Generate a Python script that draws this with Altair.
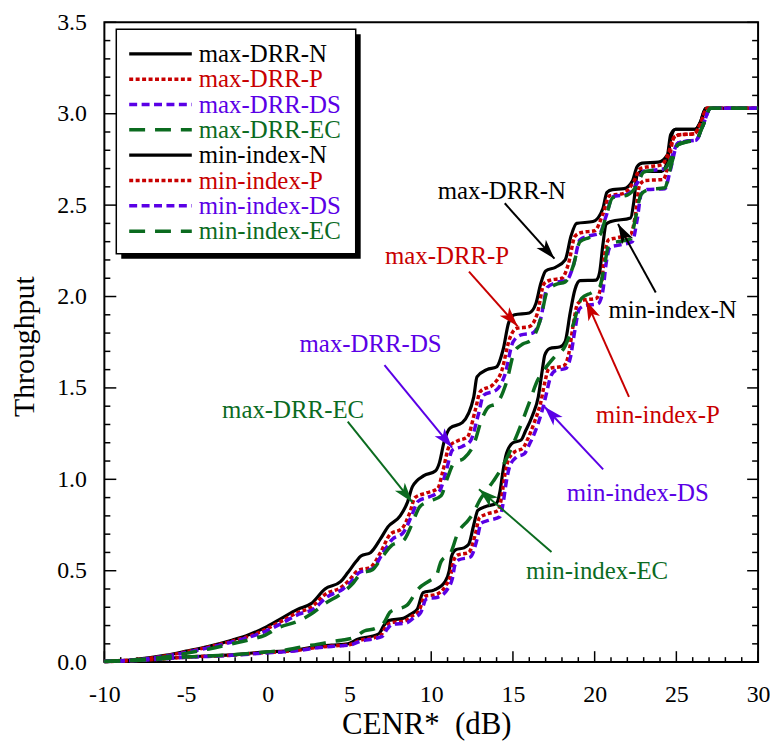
import math
import altair as alt
import pandas as pd

FONT = "Liberation Serif"
W, H = 658, 644
XMIN, XMAX, YMIN, YMAX = -10, 30, 0, 3.5

names = ["max-DRR-N", "max-DRR-P", "max-DRR-DS", "max-DRR-EC",
         "min-index-N", "min-index-P", "min-index-DS", "min-index-EC"]
colors = ["#000000", "#c80000", "#5a00e6", "#0b6b1f",
          "#000000", "#c80000", "#5a00e6", "#0b6b1f"]
dashes = [[1, 0], [4, 2.5], [8, 4.5], [16, 10],
          [1, 0], [4, 2.5], [8, 4.5], [16, 10]]
widths = [3.2, 3.5, 3.5, 3.5, 3.2, 3.5, 3.5, 3.5]

maxN_x = [-10, -8.3, -6.2, -5.0, -3.6, -2.2, -1.2, -0.15, 0.65, 1.85, 2.65, 3.5, 4.45, 4.9, 5.4, 5.7, 6.3, 6.9, 7.35, 8.1, 8.55, 8.85, 9.55, 10.25, 10.5, 10.8, 11.15, 11.9, 12.6, 12.8, 13.4, 14.0, 14.4, 14.75, 15.1, 16.0, 16.4, 16.7, 17.0, 17.6, 18.2, 18.55, 18.9, 19.9, 20.5, 20.75, 21.1, 21.8, 22.3, 22.6, 22.9, 23.9, 24.45, 24.65, 24.95, 26.15, 26.45, 26.8, 30]
maxN_y = [0.005, 0.013, 0.038, 0.06, 0.087, 0.12, 0.148, 0.19, 0.23, 0.29, 0.32, 0.40, 0.44, 0.49, 0.55, 0.58, 0.60, 0.675, 0.74, 0.80, 0.875, 0.96, 1.02, 1.045, 1.09, 1.21, 1.28, 1.31, 1.45, 1.56, 1.60, 1.615, 1.71, 1.86, 1.90, 1.91, 1.96, 2.07, 2.14, 2.16, 2.20, 2.33, 2.40, 2.41, 2.48, 2.57, 2.585, 2.59, 2.63, 2.71, 2.73, 2.735, 2.775, 2.885, 2.915, 2.915, 2.95, 3.03, 3.03]

maxP_x = [-10, -8.3, -6.2, -5.0, -3.6, -2.2, -1.2, -0.15, 0.65, 1.85, 2.65, 3.5, 4.5, 5.0, 5.5, 6.3, 6.9, 7.5, 8.2, 8.7, 9.0, 9.7, 10.4, 10.7, 11.1, 11.6, 12.2, 12.7, 13.0, 13.8, 14.3, 14.8, 15.2, 16.0, 16.5, 16.9, 17.3, 18.0, 18.4, 18.8, 19.2, 20.0, 20.5, 20.9, 21.8, 22.4, 22.8, 23.3, 24.1, 24.5, 24.85, 25.2, 26.1, 26.45, 26.9, 30]
maxP_y = [0.005, 0.012, 0.035, 0.056, 0.083, 0.115, 0.14, 0.178, 0.215, 0.272, 0.30, 0.37, 0.41, 0.45, 0.50, 0.52, 0.60, 0.70, 0.73, 0.82, 0.90, 0.925, 0.95, 1.04, 1.18, 1.21, 1.23, 1.38, 1.48, 1.52, 1.59, 1.77, 1.825, 1.835, 1.91, 2.07, 2.09, 2.10, 2.18, 2.33, 2.35, 2.36, 2.45, 2.55, 2.565, 2.63, 2.70, 2.71, 2.72, 2.78, 2.87, 2.885, 2.89, 2.94, 3.03, 3.03]

maxDS_x = [-10, -8.3, -6.2, -5.0, -3.6, -2.2, -1.2, -0.1, 0.7, 1.9, 2.8, 3.6, 4.6, 5.1, 5.6, 6.4, 7.0, 7.6, 8.3, 8.8, 9.2, 9.9, 10.5, 10.9, 11.3, 11.9, 12.4, 12.9, 13.2, 14.0, 14.5, 15.0, 15.5, 16.2, 16.7, 17.1, 17.6, 18.3, 18.7, 19.1, 19.6, 20.3, 20.7, 21.1, 22.0, 22.6, 23.0, 23.5, 24.3, 24.7, 25.1, 25.6, 26.2, 26.6, 27.1, 30]
maxDS_y = [0.004, 0.011, 0.033, 0.053, 0.079, 0.11, 0.135, 0.17, 0.205, 0.262, 0.29, 0.355, 0.40, 0.44, 0.49, 0.51, 0.59, 0.67, 0.71, 0.80, 0.88, 0.905, 0.935, 1.04, 1.16, 1.18, 1.21, 1.36, 1.46, 1.49, 1.57, 1.75, 1.79, 1.80, 1.88, 2.05, 2.075, 2.09, 2.17, 2.31, 2.33, 2.345, 2.44, 2.545, 2.56, 2.62, 2.685, 2.69, 2.70, 2.76, 2.84, 2.85, 2.855, 2.93, 3.03, 3.03]

maxEC_x = [-10, -8.3, -6.2, -5.0, -3.6, -2.2, -1.0, -0.15, 0.7, 1.8, 2.6, 3.5, 4.5, 5.2, 5.7, 6.4, 7.0, 7.6, 8.3, 8.8, 9.3, 9.9, 10.6, 11.0, 11.4, 12.0, 12.6, 13.1, 13.5, 14.0, 14.6, 15.1, 15.6, 16.1, 16.7, 17.1, 17.6, 18.2, 18.7, 19.1, 19.6, 20.3, 20.7, 21.1, 22.0, 22.6, 23.0, 23.5, 24.3, 24.7, 25.1, 25.6, 26.2, 26.6, 27.1, 30]
maxEC_y = [0.004, 0.011, 0.03, 0.048, 0.072, 0.10, 0.125, 0.148, 0.19, 0.222, 0.26, 0.32, 0.375, 0.43, 0.485, 0.505, 0.575, 0.64, 0.665, 0.75, 0.85, 0.88, 0.91, 1.01, 1.09, 1.115, 1.19, 1.33, 1.395, 1.415, 1.53, 1.70, 1.74, 1.76, 1.88, 2.03, 2.065, 2.08, 2.17, 2.30, 2.32, 2.335, 2.44, 2.54, 2.555, 2.61, 2.68, 2.69, 2.70, 2.76, 2.83, 2.845, 2.855, 2.93, 3.03, 3.03]

minN_x = [-10, -7.5, -5.0, -2.2, -0.15, 1.0, 1.85, 3.0, 3.9, 4.9, 5.5, 6.3, 6.8, 7.1, 7.4, 8.3, 8.7, 9.15, 9.5, 10.2, 10.85, 11.1, 11.25, 11.5, 12.0, 12.3, 12.6, 12.85, 13.3, 14.0, 14.2, 14.4, 14.6, 15.0, 15.5, 15.75, 16.2, 16.55, 16.8, 16.95, 17.25, 17.9, 18.2, 18.5, 18.8, 19.1, 20.1, 20.3, 20.5, 20.7, 21.0, 22.2, 22.4, 22.6, 22.9, 24.1, 24.45, 24.65, 24.95, 26.15, 26.45, 26.8, 30]
minN_y = [0.003, 0.012, 0.028, 0.04, 0.055, 0.06, 0.068, 0.085, 0.093, 0.10, 0.125, 0.14, 0.155, 0.20, 0.228, 0.24, 0.26, 0.29, 0.38, 0.395, 0.44, 0.50, 0.58, 0.615, 0.625, 0.645, 0.75, 0.83, 0.85, 0.87, 0.93, 1.05, 1.14, 1.20, 1.215, 1.26, 1.35, 1.45, 1.60, 1.68, 1.716, 1.725, 1.755, 1.91, 2.04, 2.087, 2.09, 2.13, 2.28, 2.395, 2.41, 2.43, 2.52, 2.665, 2.685, 2.685, 2.74, 2.86, 2.915, 2.915, 2.95, 3.03, 3.03]

minP_x = [-10, -7.5, -5.0, -2.2, -0.15, 1.0, 1.85, 3.0, 3.9, 5.0, 5.6, 6.4, 6.9, 7.2, 7.5, 8.4, 8.8, 9.25, 9.6, 10.3, 10.9, 11.2, 11.35, 11.6, 12.3, 12.7, 12.95, 13.4, 14.1, 14.3, 14.5, 14.7, 15.1, 15.6, 15.9, 16.3, 16.7, 16.95, 17.2, 18.1, 18.4, 18.7, 18.95, 19.3, 20.1, 20.4, 20.6, 20.85, 21.3, 22.2, 22.5, 22.75, 23.1, 24.2, 24.5, 24.85, 25.2, 26.1, 26.45, 26.9, 30]
minP_y = [0.003, 0.011, 0.027, 0.038, 0.052, 0.058, 0.065, 0.08, 0.088, 0.095, 0.118, 0.132, 0.145, 0.19, 0.215, 0.225, 0.25, 0.28, 0.36, 0.37, 0.42, 0.48, 0.55, 0.585, 0.60, 0.70, 0.79, 0.81, 0.83, 0.90, 1.02, 1.10, 1.15, 1.17, 1.22, 1.31, 1.42, 1.53, 1.605, 1.62, 1.68, 1.85, 1.96, 1.98, 1.99, 2.06, 2.22, 2.31, 2.32, 2.34, 2.45, 2.61, 2.635, 2.64, 2.72, 2.87, 2.885, 2.89, 2.94, 3.03, 3.03]

minDS_x = [-10, -7.5, -5.0, -2.2, -0.15, 1.0, 1.85, 3.0, 3.9, 5.0, 5.7, 6.5, 7.0, 7.3, 7.6, 8.5, 8.9, 9.35, 9.7, 10.4, 11.0, 11.3, 11.45, 11.7, 12.4, 12.8, 13.05, 13.5, 14.2, 14.4, 14.6, 14.8, 15.2, 15.7, 16.0, 16.4, 16.8, 17.05, 17.3, 17.6, 18.2, 18.5, 18.8, 19.05, 19.4, 20.2, 20.5, 20.7, 20.95, 21.4, 22.3, 22.6, 22.85, 23.2, 24.3, 24.6, 25.1, 25.6, 26.2, 26.6, 27.1, 30]
minDS_y = [0.003, 0.011, 0.026, 0.037, 0.05, 0.056, 0.063, 0.078, 0.086, 0.093, 0.115, 0.128, 0.14, 0.18, 0.205, 0.215, 0.24, 0.27, 0.345, 0.355, 0.40, 0.46, 0.53, 0.56, 0.575, 0.67, 0.76, 0.775, 0.795, 0.87, 0.99, 1.07, 1.12, 1.14, 1.19, 1.27, 1.38, 1.47, 1.56, 1.595, 1.605, 1.66, 1.82, 1.93, 1.95, 1.96, 2.03, 2.18, 2.27, 2.28, 2.30, 2.42, 2.56, 2.585, 2.59, 2.68, 2.84, 2.85, 2.855, 2.93, 3.03, 3.03]

minEC_x = [-10, -7.5, -5.0, -2.2, -0.15, 1.0, 2.3, 3.0, 3.9, 4.5, 5.3, 5.9, 6.6, 7.1, 7.5, 8.5, 9.2, 9.9, 10.3, 10.6, 11.2, 11.6, 12.3, 12.6, 13.0, 13.4, 13.8, 14.3, 14.7, 15.0, 15.5, 16.0, 16.5, 17.0, 17.5, 18.2, 18.7, 19.2, 19.8, 20.3, 20.6, 20.9, 21.4, 22.2, 22.5, 22.85, 23.3, 24.3, 24.6, 25.1, 25.6, 26.2, 26.6, 27.1, 30]
minEC_y = [0.003, 0.012, 0.028, 0.04, 0.055, 0.065, 0.087, 0.097, 0.112, 0.12, 0.136, 0.17, 0.185, 0.215, 0.275, 0.31, 0.40, 0.445, 0.47, 0.55, 0.60, 0.70, 0.78, 0.82, 0.89, 0.94, 0.99, 1.06, 1.13, 1.19, 1.30, 1.42, 1.54, 1.61, 1.665, 1.73, 1.85, 1.99, 2.02, 2.05, 2.17, 2.29, 2.30, 2.315, 2.43, 2.56, 2.585, 2.595, 2.69, 2.83, 2.845, 2.855, 2.93, 3.03, 3.03]

series_x = [maxN_x, maxP_x, maxDS_x, maxEC_x, minN_x, minP_x, minDS_x, minEC_x]
series_y = [maxN_y, maxP_y, maxDS_y, maxEC_y, minN_y, minP_y, minDS_y, minEC_y]
draw_order = [0, 4, 1, 5, 2, 6, 3, 7]

# annotations: label text positions (x, baseline y) and arrows (start -> tip)
ann_text = names
ann_tx = [14.32, 10.97, 6.29, 1.55, 24.77, 23.86, 22.64, 20.15]
ann_ty = [2.533, 2.179, 1.696, 1.337, 1.880, 1.310, 0.880, 0.457]
arr_x0 = [14.50, 12.31, 7.14, 4.89, 23.74, 22.10, 20.52, 17.36]
arr_y0 = [2.510, 2.136, 1.625, 1.315, 2.022, 1.451, 1.054, 0.603]
arr_x1 = [17.54, 15.29, 11.28, 8.84, 21.43, 19.48, 16.93, 12.92]
arr_y1 = [2.207, 1.837, 1.174, 0.875, 2.397, 1.978, 1.397, 0.946]

x_major = [-10, -5, 0, 5, 10, 15, 20, 25, 30]
x_minor = [-9, -8, -7, -6, -4, -3, -2, -1, 1, 2, 3, 4, 6, 7, 8, 9, 11, 12, 13, 14,
           16, 17, 18, 19, 21, 22, 23, 24, 26, 27, 28, 29]
y_major = [0.0, 0.5, 1.0, 1.5, 2.0, 2.5, 3.0, 3.5]
y_minor = [round(0.1 * k, 1) for k in range(1, 35) if k % 5]

xs = alt.Scale(domain=[XMIN, XMAX], nice=False, zero=False)
ys = alt.Scale(domain=[YMIN, YMAX], nice=False, zero=False)

xaxis = alt.Axis(values=x_major, labelExpr="'' + datum.value", ticks=False, tickSize=0,
                 domain=False, grid=False, labelFont=FONT, labelFontSize=24,
                 labelColor="black", labelPadding=21, labelFlush=False,
                 title="CENR*\u00a0 (dB)", titleFont=FONT, titleFontSize=31,
                 titleFontWeight="normal", titleColor="black", titleX=324, titleY=72,
                 titleAlign="center", titleBaseline="alphabetic")
yaxis = alt.Axis(values=y_major, labelExpr="format(datum.value, '.1f')", ticks=False,
                 tickSize=0, domain=False, grid=False, labelFont=FONT, labelFontSize=24,
                 labelColor="black", labelPadding=18, labelFlush=False,
                 title="Throughput", titleFont=FONT, titleFontSize=30,
                 titleFontWeight="normal", titleColor="black", titleAngle=270,
                 titleX=-71, titleY=326, titleAlign="center", titleBaseline="alphabetic")


def X(f):
    return alt.X(f, type="quantitative", scale=xs, axis=xaxis)


def Y(f):
    return alt.Y(f, type="quantitative", scale=ys, axis=yaxis)


layers = []

# inside ticks
tick_color = "black"
df_xmaj = pd.DataFrame({"v": x_major})
df_xmin = pd.DataFrame({"v": x_minor})
df_ymaj = pd.DataFrame({"v": y_major})
df_ymin = pd.DataFrame({"v": y_minor})
layers.append(alt.Chart(df_xmaj).mark_rule(color=tick_color, strokeWidth=1.5).encode(
    x=X("v"), y=alt.value(H), y2=alt.value(H - 11)))
layers.append(alt.Chart(df_xmin).mark_rule(color=tick_color, strokeWidth=1.5).encode(
    x=X("v"), y=alt.value(H), y2=alt.value(H - 5)))
layers.append(alt.Chart(df_ymaj).mark_rule(color=tick_color, strokeWidth=1.5).encode(
    y=Y("v"), x=alt.value(0), x2=alt.value(12)))
layers.append(alt.Chart(df_ymin).mark_rule(color=tick_color, strokeWidth=1.5).encode(
    y=Y("v"), x=alt.value(0), x2=alt.value(6)))
layers.append(alt.Chart(df_ymaj).mark_rule(color=tick_color, strokeWidth=1.5).encode(
    y=Y("v"), x=alt.value(W), x2=alt.value(W - 11)))
layers.append(alt.Chart(df_ymin).mark_rule(color=tick_color, strokeWidth=1.5).encode(
    y=Y("v"), x=alt.value(W), x2=alt.value(W - 6)))

# curves
for i in draw_order:
    df = pd.DataFrame({"x": series_x[i], "y": series_y[i]})
    kw = dict(color=colors[i], strokeWidth=widths[i], interpolate="monotone")
    if dashes[i] != [1, 0]:
        kw["strokeDash"] = dashes[i]
    layers.append(alt.Chart(df).mark_line(**kw).encode(x=X("x"), y=Y("y"), order=alt.Order("x:Q")))

# arrows
sx = W / (XMAX - XMIN)
sy = H / (YMAX - YMIN)
angles = []
for a, b, c, d in zip(arr_x0, arr_y0, arr_x1, arr_y1):
    dx = (c - a) * sx
    dy = -(d - b) * sy
    angles.append(math.degrees(math.atan2(dx, -dy)) % 360)
df_arr = pd.DataFrame({"x0": arr_x0, "y0": arr_y0, "x1": arr_x1, "y1": arr_y1,
                       "col": colors, "ang": angles})
layers.append(alt.Chart(df_arr).mark_rule(strokeWidth=2).encode(
    x=X("x0"), y=Y("y0"), x2="x1", y2="y1", color=alt.Color("col:N", scale=None)))
head = "M0,0 L0.62,1.95 L0,1.45 L-0.62,1.95 Z"
layers.append(alt.Chart(df_arr).mark_point(shape=head, filled=True, size=420, opacity=1,
                                           strokeWidth=0).encode(
    x=X("x1"), y=Y("y1"), angle=alt.Angle("ang:Q", scale=None),
    color=alt.Color("col:N", scale=None)))

df_txt = pd.DataFrame({"t": ann_text, "x": ann_tx, "y": ann_ty, "col": colors})
layers.append(alt.Chart(df_txt).mark_text(font=FONT, fontSize=25, align="center",
                                          baseline="alphabetic").encode(
    x=X("x"), y=Y("y"), text="t:N", color=alt.Color("col:N", scale=None)))

# legend box (drawn manually, with shadow)
one = pd.DataFrame({"a": [0]})
bx0, bx1, by0, by1 = 12, 253, 7, 233
layers.append(alt.Chart(one).mark_rect(color="black").encode(
    x=alt.value(bx0 + 5), x2=alt.value(bx1 + 5), y=alt.value(by0 + 5), y2=alt.value(by1 + 5)))
layers.append(alt.Chart(one).mark_rect(fill="white", stroke="black", strokeWidth=1.5).encode(
    x=alt.value(bx0), x2=alt.value(bx1), y=alt.value(by0), y2=alt.value(by1)))
row0, rowh = 40, 25.5
for i, nm in enumerate(names):
    base = row0 + i * rowh
    kw = dict(color=colors[i], strokeWidth=widths[i])
    if dashes[i] != [1, 0]:
        kw["strokeDash"] = dashes[i]
    layers.append(alt.Chart(one).mark_rule(**kw).encode(
        x=alt.value(25), x2=alt.value(88), y=alt.value(base - 8.3)))
    layers.append(alt.Chart(one).mark_text(font=FONT, fontSize=25, align="left",
                                           baseline="alphabetic", color=colors[i]).encode(
        x=alt.value(95), y=alt.value(base), text=alt.value(nm)))

chart = alt.layer(*layers).properties(
    width=W, height=H,
    padding={"left": 97, "top": 12, "right": 12, "bottom": 78},
    autosize=alt.AutoSizeParams(type="none"),
).configure_view(stroke="black", strokeWidth=2)

chart.save("out.html", embed_options={"renderer": "svg", "actions": False})
